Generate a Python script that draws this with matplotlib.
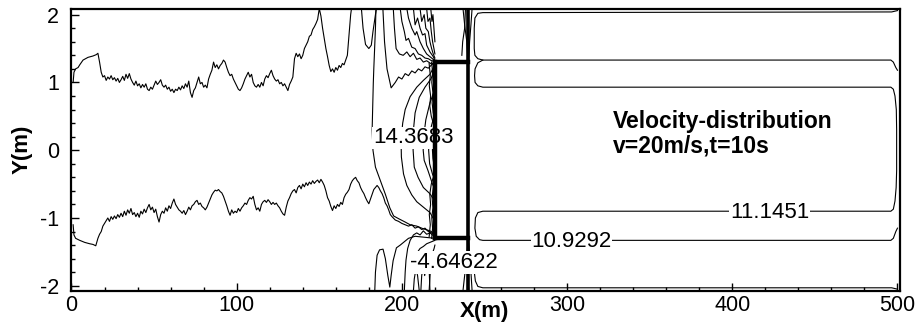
import numpy as np
import matplotlib.pyplot as plt

plt.rcParams['font.family'] = ['Liberation Sans', 'DejaVu Sans']
plt.rcParams['axes.unicode_minus'] = False

#Contour lines, (x, y) in m
upper_line = [(1,1.0),(1.5,1.15),(2.5,1.2),(4,1.22),(5,1.26),(7,1.33),(10,1.37),(13,1.39),(15,1.41),(16,1.43),
	(17,1.3),(18,1.15),(19,1.08),(20,1.1),(21,1.03),(22,1.08),(23,1.05),(24,1.1),(25,1.04),(26,1.07),(27,1.02),
	(28,1.06),(29,1.0),(30,1.04),(31,1.09),(32,1.03),(33,1.12),(34,1.06),(35,1.13),(36,1.05),(37,1.0),(38,0.96),
	(39,1.02),(40,0.95),(41,0.98),(42,0.92),(43,0.97),(44,0.93),(45,0.98),(46,0.9),(47,0.88),(48,0.93),(49,0.9),
	(50,0.96),(51,1.02),(52,0.97),(53,1.0),(54,1.04),(55,0.96),(56,0.93),(57,0.96),(58,0.9),(59,0.93),(60,0.87),
	(61,0.9),(62,0.85),(63,0.9),(64,0.88),(65,0.93),(66,0.89),(67,0.95),(68,0.91),(69,0.98),(70,0.93),(71,1.02),
	(72,0.85),(73,0.78),(74,0.88),(75,0.92),(76,1.0),(77,1.08),(78,0.98),(79,1.0),(80,0.93),(81,0.96),(82,0.92),
	(83,1.05),(84,1.12),(85,1.18),(86,1.3),(87,1.22),(88,1.26),(89,1.2),(90,1.25),(91,1.28),(92,1.33),(93,1.3),
	(94,1.22),(95,1.15),(96,1.1),(97,1.12),(98,1.05),(99,1.0),(100,0.95),(101,0.9),(102,0.88),(103,0.92),(104,0.98),
	(105,1.05),(106,1.1),(107,1.15),(108,1.08),(109,1.12),(110,1.0),(111,0.95),(112,0.93),(113,0.97),(114,0.93),
	(115,1.0),(116,0.95),(117,1.05),(118,1.1),(119,1.07),(120,1.13),(121,1.18),(122,1.1),(123,1.05),(124,1.02),
	(125,1.04),(126,0.98),(127,1.0),(128,0.95),(129,0.98),(130,0.93),(131,0.88),(132,0.97),(133,1.02),(134,1.08),
	(135,1.35),(136,1.43),(137,1.38),(138,1.42),(139,1.35),(140,1.4),(141,1.5),(142,1.55),(143,1.6),(144,1.68),
	(145,1.7),(146,1.78),(147,1.82),(148,1.87),(149,1.93),(150,2.09),(151,1.98),(152,1.8),(153,1.65),(154,1.5),
	(155,1.38),(156,1.25),(157,1.16),(158,1.2),(159,1.15),(160,1.22),(161,1.18),(162,1.25),(163,1.22),(164,1.28),
	(165,1.26),(166,1.33),(167,1.4),(168,1.7),(169,2.0),(169.5,2.09)]

lower_line = [(1,-1.1),(1.5,-1.25),(2.5,-1.3),(5,-1.33),(8,-1.36),(11,-1.38),(13,-1.39),(14.7,-1.41),(16,-1.3),
	(17,-1.24),(18,-1.2),(19,-1.12),(20,-1.08),(21,-1.04),(22,-1.0),(23,-1.05),(24,-0.98),(25,-1.02),(26,-0.97),
	(27,-1.01),(28,-0.95),(29,-0.99),(30,-0.93),(31,-0.98),(32,-0.9),(33,-0.96),(34,-0.88),(35,-0.93),(36,-0.86),
	(37,-0.95),(38,-0.92),(39,-0.98),(40,-0.93),(41,-0.99),(42,-0.9),(43,-0.94),(44,-0.87),(45,-0.92),(46,-0.85),
	(47,-0.8),(48,-0.88),(49,-0.84),(50,-0.92),(51,-0.87),(52,-0.98),(53,-1.06),(54,-0.95),(55,-0.9),(56,-0.93),
	(57,-0.85),(58,-0.9),(59,-0.82),(60,-0.86),(61,-0.78),(62,-0.72),(63,-0.8),(64,-0.84),(65,-0.88),(66,-0.9),
	(67,-0.93),(68,-0.89),(69,-0.95),(70,-0.9),(71,-0.84),(72,-0.88),(73,-0.82),(74,-0.8),(75,-0.76),(76,-0.74),
	(77,-0.8),(78,-0.78),(79,-0.83),(80,-0.85),(81,-0.88),(82,-0.84),(83,-0.78),(84,-0.72),(85,-0.66),(86,-0.62),
	(87,-0.59),(88,-0.6),(89,-0.58),(90,-0.61),(91,-0.63),(92,-0.68),(93,-0.75),(94,-0.82),(95,-0.9),(96,-0.96),
	(97,-0.88),(98,-0.93),(99,-0.9),(100,-0.92),(101,-0.86),(102,-0.9),(103,-0.85),(104,-0.82),(105,-0.78),
	(106,-0.8),(107,-0.74),(108,-0.7),(109,-0.72),(110,-0.68),(111,-0.8),(112,-0.88),(113,-0.85),(114,-0.9),
	(115,-0.8),(116,-0.76),(117,-0.74),(118,-0.77),(119,-0.73),(120,-0.76),(121,-0.8),(122,-0.77),(123,-0.8),
	(124,-0.78),(125,-0.82),(126,-0.85),(127,-0.9),(128,-0.94),(129,-0.96),(130,-0.84),(131,-0.75),(132,-0.7),
	(133,-0.64),(134,-0.6),(135,-0.58),(136,-0.63),(137,-0.55),(138,-0.52),(139,-0.57),(140,-0.5),(141,-0.54),
	(142,-0.48),(143,-0.52),(144,-0.47),(145,-0.5),(146,-0.45),(147,-0.49),(148,-0.46),(149,-0.44),(150,-0.48),
	(151,-0.43),(152,-0.47),(153,-0.52),(154,-0.6),(155,-0.7),(156,-0.75),(157,-0.83),(158,-0.89),(159,-0.82),
	(160,-0.86),(161,-0.8),(162,-0.83),(163,-0.77),(164,-0.8),(165,-0.7),(166,-0.65),(167,-0.62),(168,-0.58),
	(169,-0.5),(170,-0.45),(171,-0.42),(172,-0.4),(173,-0.45),(174,-0.48),(175,-0.55),(176,-0.6),(177,-0.64),
	(178,-0.7),(179,-0.75),(180,-0.79),(181,-0.72),(182,-0.65),(183,-0.58),(184,-0.55),(185,-0.52),(186,-0.55),
	(187,-0.6),(188,-0.64),(189,-0.7),(190,-0.78),(191,-0.82),(192,-0.88),(193,-0.95),(194,-0.98),(196,-1.03),
	(198,-1.05),(200,-1.08),(202,-1.1),(204,-1.12),(206,-1.1),(208,-1.15),(210,-1.13),(212,-1.17),(214,-1.15),
	(216,-1.2),(218,-1.22),(220,-1.25)]

#lines near the top boundary, left of the block
top_lines = [
	[(175.5,2.09),(176.5,1.8),(178,1.56),(180,1.5),(181.5,1.55),(182.5,1.75),(184,2.0),(184.6,2.09)],
	[(188.5,2.09),(189.5,1.6),(191,1.2),(193.5,0.92),(196,1.0),(198,1.08),(200,1.05),(202,1.13),(204,1.1),
		(206,1.17),(208,1.14),(210,1.2),(212,1.17),(214,1.23),(216,1.21),(218,1.26),(220,1.3)],
	[(194.8,2.09),(195.5,1.8),(196.5,1.5),(198.5,1.42),(200.8,1.4),(203,1.45),(205,1.38),(207,1.43),(209,1.34),
		(211,1.36),(213,1.3),(215,1.32),(218,1.27),(220,1.3)],
	[(199,2.09),(200,1.9),(201.5,1.75),(202.5,1.62),(204,1.65),(206,1.52),(208,1.5),(210,1.42),(212,1.4),
		(214,1.36),(216,1.35),(218,1.32),(220,1.31)],
	[(203,2.09),(204,1.95),(206,1.8),(208,1.7),(209,1.75),(211,1.6),(213,1.5),(215,1.42),(217,1.38),(220,1.32)],
	[(207,2.09),(208,1.85),(209.5,1.95),(211,1.8),(212.5,1.7),(214,1.72),(215,1.55),(217,1.45),(219,1.38),(220,1.33)],
	[(211,2.09),(212,1.9),(213.5,2.0),(214.5,1.8),(216,1.75),(217,1.6),(218,1.5),(219,1.42),(220,1.36)],
	[(215,2.09),(215.8,1.9),(217,1.95),(217.8,1.75),(218.6,1.6),(219.4,1.5),(220,1.42)],
	[(217.5,2.09),(218.2,1.9),(218.8,2.0),(219.4,1.8),(220,1.6)]]

#nested curves bulging to the left of the block
nested_lines = [
	[(184.3,2.09),(184,1.8),(183.5,1.5),(183,1.2),(182.7,0.99),(182.3,0.6),(182,0.3),(182.5,0.0),(184,-0.25),
		(187,-0.45),(190,-0.65),(192.7,-0.85),(195,-0.97),(198,-1.01),(202,-1.06),(205,-1.1),(209,-1.12),
		(213,-1.16),(217,-1.19),(220,-1.23)],
	[(220,1.26),(217,1.12),(213,1.03),(209,0.93),(205,0.79),(202,0.6),(200.5,0.4),(199.5,0.15),(199.7,-0.1),
		(201,-0.35),(203,-0.52),(206,-0.66),(209,-0.76),(213,-0.84),(217,-0.92),(220,-1.05)],
	[(220,1.18),(217.5,1.05),(214,0.93),(210.5,0.78),(208,0.55),(207,0.3),(206.8,0.0),(207.5,-0.25),(209.8,-0.4),
		(213,-0.55),(216.9,-0.64),(220,-0.75)],
	[(220,0.9),(217,0.7),(214.5,0.45),(213.2,0.2),(212.9,0.0),(213.5,-0.15),(215.8,-0.3),(218.4,-0.49),(220,-0.6)],
	[(220,0.55),(217.8,0.35),(216.5,0.15),(216.2,0.0),(216.8,-0.2),(218.5,-0.35),(220,-0.45)],
	[(220,0.3),(218.8,0.12),(218.5,0.0),(218.8,-0.12),(220,-0.3)],
	[(218,1.3),(218.6,1.15),(218.1,1.0),(218.8,0.85),(218.3,0.7),(219,0.55),(220,0.45)],
	[(216.5,1.28),(217.2,1.1),(216.6,0.95),(217.4,0.8),(216.9,0.65),(217.8,0.5),(219,0.4)],
	[(218,-1.3),(218.6,-1.15),(218.1,-1.0),(218.8,-0.85),(218.3,-0.7),(219,-0.55),(220,-0.45)],
	[(216.5,-1.28),(217.2,-1.1),(216.6,-0.95),(217.4,-0.8),(216.9,-0.65),(217.8,-0.5),(219,-0.4)]]

#lines near the bottom boundary, left of the block
bottom_lines = [
	[(183.6,-2.07),(184,-1.8),(185,-1.55),(186.5,-1.47),(188.6,-1.46),(190,-1.6),(191.5,-1.85),(192.7,-2.02),
		(193.5,-1.85),(194.7,-1.63),(196.7,-1.44),(199,-1.4),(201,-1.36),(204,-1.3),(208,-1.27),(212,-1.28),
		(216,-1.29),(220,-1.3)],
	[(201.5,-2.07),(202,-1.8),(202.5,-1.62),(203.5,-1.45),(205,-1.33),(207,-1.25),(209,-1.22),(211,-1.25),
		(213,-1.19),(215,-1.24),(217,-1.22),(220,-1.28)],
	[(207,-2.07),(207.5,-1.9),(208.5,-1.75),(209.5,-1.85),(210.5,-2.07)],
	[(211.5,-2.07),(212,-1.85),(213,-1.7),(213.8,-1.85),(214.5,-1.75),(215.5,-1.6),(216.5,-1.75),(217,-2.07)],
	[(216.5,-2.07),(217.2,-1.8),(218,-1.6),(218.8,-1.5),(219.5,-1.45),(220,-1.4)],
	[(209,-1.52),(211,-1.45),(213,-1.42),(215,-1.38),(217,-1.36),(220,-1.33)]]

#short lines just right of the block
wake_lines = [
	[(237,2.09),(238,1.85),(239.3,1.6),(240,1.33)],
	[(242.5,2.09),(241.8,1.85),(241,1.6),(240.5,1.33)],
	[(236.3,1.4),(236.8,1.6),(238,1.8),(238.5,2.09)],
	[(237,-2.07),(238,-1.85),(239.3,-1.6),(240,-1.33)],
	[(242.5,-2.07),(241.8,-1.8),(241,-1.55),(240.5,-1.33)]]

#long contours downstream of the block
far_lines = [
	[(500,2.06),(496.5,2.04),(249,2.03),(246,2.02),(244.2,1.95),(243.8,1.8),(243.8,1.5),(244.2,1.4),(246,1.35),
		(249,1.33),(496,1.33),(497.5,1.3),(499,1.22),(500,1.18)],
	[(249,1.33),(246,1.29),(244.3,1.2),(244,1.1),(244.3,1.0),(246,0.95),(249,0.93),(496,0.93),(497.5,0.9),
		(498.5,0.8),(499.3,0.6),(499.5,0.3),(499.5,-0.3),(499.2,-0.55),(498.5,-0.75),(497.5,-0.87),(496,-0.9),
		(249,-0.9),(246,-0.92),(244.5,-1.0),(244.2,-1.15),(245,-1.27),(247,-1.32),(249,-1.33),(496,-1.33),
		(497.5,-1.3),(499,-1.2),(500,-1.15)],
	[(244,-1.72),(244,-1.83),(244.5,-1.93),(246,-2.01),(249,-2.03),(496.5,-2.03),(500,-2.05)]]

#block outline and downstream wall
block_x     = [220, 240]
block_y     = [-1.3, 1.3]
wall_x      = 240

#contour labels
label_text  = ['14.3683', '-4.64622', '10.9292', '11.1451']
label_x     = [206.9, 231.5, 302.6, 422.6]
label_y     = [0.103, -1.74, -1.426, -1.003]

xlim = (0, 501.5)
ylim = (-2.07, 2.09)


fig = plt.figure(figsize=(9.2, 3.29), dpi=100)
ax  = fig.add_axes([0.0777, 0.117, 0.9005, 0.857])

for line in [upper_line, lower_line] + top_lines + nested_lines + bottom_lines + wake_lines + far_lines :
	pts = np.array(line)
	ax.plot(pts[:,0], pts[:,1], color='black', lw=0.8, zorder=2)

#the wall right of the block goes over the full height
ax.axvline(wall_x, color='black', lw=2.6, zorder=3)

for i in range(len(label_text)) :
	ax.text(label_x[i], label_y[i], label_text[i], fontsize=16, ha='center', va='baseline', zorder=4,
		bbox=dict(facecolor='white', edgecolor='none', pad=0.5))

#block
ax.plot([block_x[0], block_x[0]], block_y, color='black', lw=3.2, zorder=5, solid_capstyle='projecting')
ax.plot(block_x, [block_y[0], block_y[0]], color='black', lw=3.2, zorder=5, solid_capstyle='projecting')
ax.plot(block_x, [block_y[1], block_y[1]], color='black', lw=3.2, zorder=5, solid_capstyle='projecting')

ax.text(328, 0.324, 'Velocity-distribution', fontsize=16.5, fontweight='bold', ha='left', va='baseline')
ax.text(328, -0.03, 'v=20m/s,t=10s', fontsize=16.5, fontweight='bold', ha='left', va='baseline')

ax.set_xlim(xlim)
ax.set_ylim(ylim)
ax.set_xticks([0, 100, 200, 300, 400, 500])
ax.set_xticks(np.arange(0, 501, 20), minor=True)
ax.set_yticks([-2, -1, 0, 1, 2])
ax.set_yticks(np.arange(-2, 2.01, 0.2), minor=True)
ax.tick_params(which='both', direction='in', top=False, right=False, width=1, labelsize=15.5)
ax.tick_params(axis='x', which='major', length=6, pad=3)
ax.tick_params(axis='y', which='major', length=6, pad=9)
ax.tick_params(which='minor', length=3)
for s in ax.spines.values() :
	s.set_linewidth(1.6)

ax.text(-0.0597, 0.5, 'Y(m)', transform=ax.transAxes, rotation=90, fontsize=16, fontweight='bold',
	ha='center', va='center')
ax.text(0.499, -0.073, 'X(m)', transform=ax.transAxes, fontsize=16, fontweight='bold', ha='center', va='center')

fig.savefig('out.png', dpi=100)
